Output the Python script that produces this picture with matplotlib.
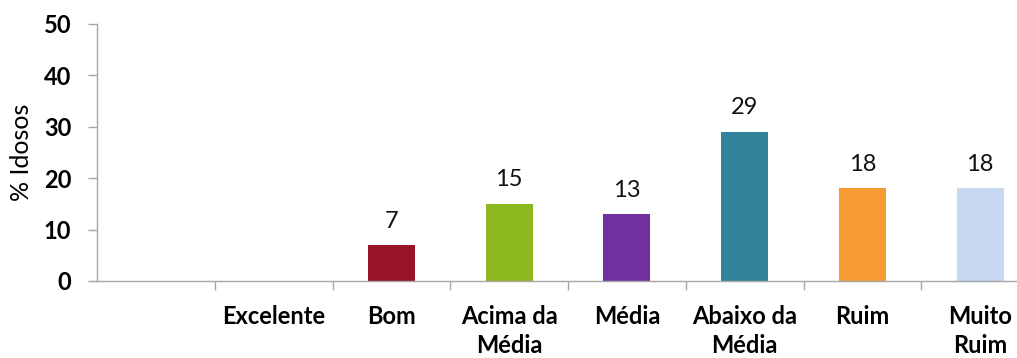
import matplotlib.pyplot as plt
import numpy as np

# Autoavaliação de saúde dos idosos
categories = ["", "Excelente", "Bom", "Acima da\nMédia", "Média", "Abaixo da\nMédia", "Ruim", "Muito\nRuim"]
values = [np.nan, np.nan, 7, 15, 13, 29, 18, 18]
colors = ["#FFFFFF", "#FFFFFF", "#961328", "#8CB71E", "#7030A0", "#31849B", "#F79A33", "#C6D9F1"]

plt.rcParams["font.family"] = ["Lato", "DejaVu Sans"]

fig = plt.figure(figsize=(10.17, 3.58), dpi=100)
ax = fig.add_axes([97 / 1017, 77 / 358, 942 / 1017, 257.3 / 358])

x = np.arange(len(categories))
heights = np.nan_to_num(values)
ax.bar(x, heights, width=0.4, color=colors, zorder=2)

for xi, v in zip(x, values):
	if np.isnan(v):
		continue
	ax.annotate(f"{v:.0f}", (xi, v), xytext=(0, 12.5), textcoords="offset points",
		ha="center", va="baseline", fontsize=17, color="#111111")

ax.set_xlim(-0.5, len(categories) - 0.5)
ax.set_ylim(0, 50)
ax.set_yticks(range(0, 51, 10))

# tick marks between categories, labels at centres
ax.set_xticks(np.arange(0.5, len(categories) - 0.5, 1))
ax.set_xticklabels([])
ax.set_xticks(x, categories, minor=True)
ax.tick_params(axis="x", which="major", length=6.5, width=1, color="#A6A6A6", direction="out")
ax.tick_params(axis="x", which="minor", length=0, pad=17, labelsize=17)
ax.tick_params(axis="y", length=6.5, width=1, color="#A6A6A6", pad=12, labelsize=17)
for lbl in ax.get_xticklabels(minor=True) + ax.get_yticklabels():
	lbl.set_fontweight("bold")
	lbl.set_linespacing(1.35)

ax.set_ylabel("% Idosos", fontsize=18, labelpad=8)

for side in ("top", "right"):
	ax.spines[side].set_visible(False)
for side in ("left", "bottom"):
	ax.spines[side].set_color("#A6A6A6")
	ax.spines[side].set_linewidth(1)

fig.savefig("out.png", dpi=100)
